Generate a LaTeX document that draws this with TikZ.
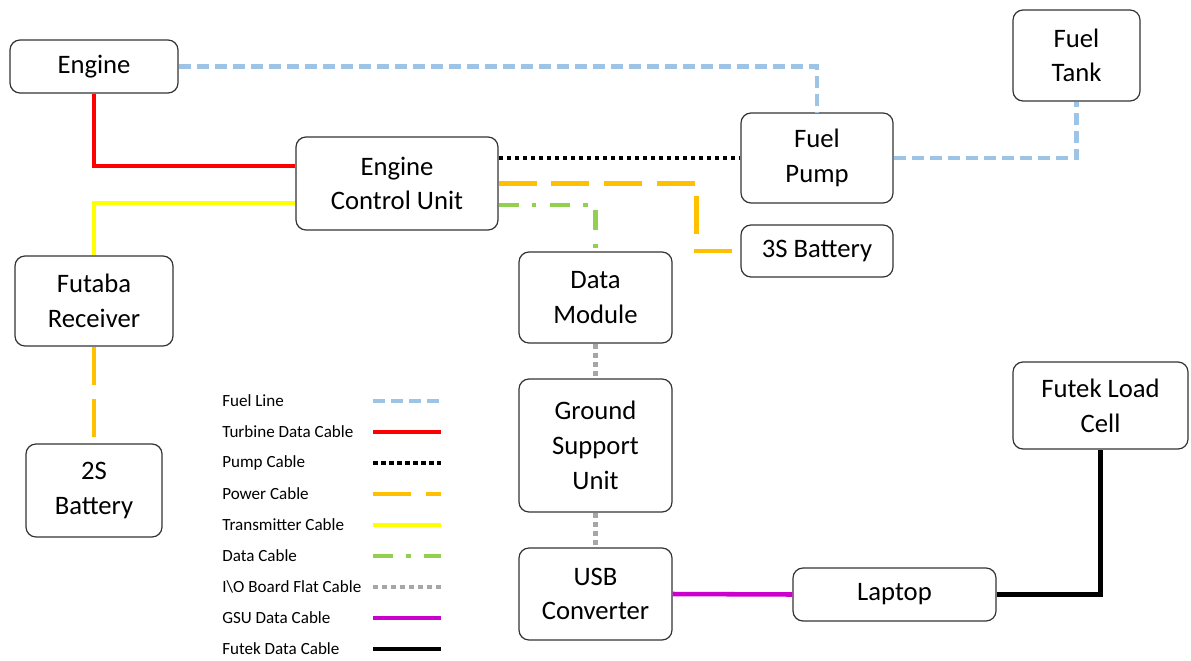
\documentclass[tikz,border=0pt]{standalone}
\usepackage{fontspec}
\setmainfont{Carlito}
\usepackage{tikz}

\definecolor{fuelblue}{HTML}{9DC3E6}
\definecolor{turbred}{HTML}{FF0000}
\definecolor{poweramber}{HTML}{FFC000}
\definecolor{txyellow}{HTML}{FFFF00}
\definecolor{datagreen}{HTML}{92D050}
\definecolor{flatgray}{HTML}{A6A6A6}
\definecolor{gsumagenta}{HTML}{CC00CC}

\tikzset{
	unit/.style={shape=rectangle, draw=black!80, line width=0.9pt, rounded corners=7.5pt,
		align=center, inner sep=0pt, font=\fontsize{20}{26}\selectfont},
	cable/.style={line width=3.4pt},
	fuelline/.style={cable, fuelblue, dash pattern=on 9pt off 4.5pt},
	turbinecable/.style={cable, turbred},
	pumpcable/.style={cable, black, dash pattern=on 3.4pt off 2.6pt},
	powercable/.style={cable, poweramber, dash pattern=on 28.5pt off 11pt},
	txcable/.style={cable, txyellow},
	datacable/.style={cable, datagreen, dash pattern=on 15pt off 10pt on 3.4pt off 10pt},
	flatcable/.style={cable, flatgray, dash pattern=on 3.8pt off 3pt},
	gsucable/.style={cable, gsumagenta},
	futekcable/.style={cable, black},
	legendtext/.style={anchor=west, inner sep=0pt, font=\fontsize{12.8}{15}\selectfont}
}

\begin{document}
\begin{tikzpicture}[x=0.75pt, y=-0.75pt]
	\useasboundingbox (0,0) rectangle (1191,660);
	
	% units
	\node[unit, minimum width=126pt, minimum height=39.75pt] (engine) at (94,66.5) {Engine};
	\node[unit, minimum width=151.5pt, minimum height=69.75pt] (ecu) at (397,183.5) {Engine\\Control Unit};
	\node[unit, minimum width=114pt, minimum height=67.5pt] (pump) at (817,158) {Fuel\\Pump};
	\node[unit, minimum width=95.25pt, minimum height=68.25pt] (tank) at (1076.5,55.5) {Fuel\\Tank};
	\node[unit, minimum width=114pt, minimum height=39pt] (batt3) at (817,251) {3S Battery};
	\node[unit, minimum width=118.5pt, minimum height=67.5pt] (futaba) at (94,301) {Futaba\\Receiver};
	\node[unit, minimum width=102pt, minimum height=69.75pt] (batt2) at (94,490.5) {2S\\Battery};
	\node[unit, minimum width=114.75pt, minimum height=68.25pt] (dmod) at (595.5,297.5) {Data\\Module};
	\node[unit, minimum width=114.75pt, minimum height=99.75pt] (gsu) at (595.5,445.5) {Ground\\Support\\Unit};
	\node[unit, minimum width=114.75pt, minimum height=69pt] (usb) at (595.5,594) {USB\\Converter};
	\node[unit, minimum width=152.25pt, minimum height=39.75pt] (laptop) at (894.5,594.5) {Laptop};
	\node[unit, minimum width=131.25pt, minimum height=65.25pt] (futek) at (1100.5,405.5) {Futek Load\\Cell};
	
	% cables
	\draw[fuelline] (engine.east) -| (pump.north);
	\draw[fuelline] (pump.east) -| (tank.south);
	\draw[turbinecable] (engine.south) |- ([yshift=13pt]ecu.west);
	\draw[txcable] ([yshift=-14.6pt]ecu.west) -| (futaba.north);
	\draw[pumpcable] (pump.west -| ecu.east) -- (pump.west);
	\draw[powercable] (ecu.east) -| ([xshift=-33pt]batt3.west) -- (batt3.west);
	\draw[datacable] ([yshift=-16pt]ecu.east) -| (dmod.north);
	\draw[powercable] (futaba.south) -- (batt2.north);
	\draw[flatcable] (dmod.south) -- (gsu.north);
	\draw[flatcable] (gsu.south) -- (usb.north);
	\draw[gsucable] (usb.east) -- (laptop.west);
	\draw[futekcable] (laptop.east) -| (futek.south);
	
	% legend
	\foreach \lbl/\sty [count=\i] in {Fuel Line/fuelline, Turbine Data Cable/turbinecable,
		Pump Cable/pumpcable, Power Cable/powercable, Transmitter Cable/txcable,
		Data Cable/datacable, I\textbackslash{}O Board Flat Cable/flatcable,
		GSU Data Cable/gsucable, Futek Data Cable/futekcable}{
		\node[legendtext] (key\i) at (222,370+31*\i) {\lbl};
		\draw[\sty] (373,370+31*\i) -- (441,370+31*\i);
	}
\end{tikzpicture}
\end{document}
